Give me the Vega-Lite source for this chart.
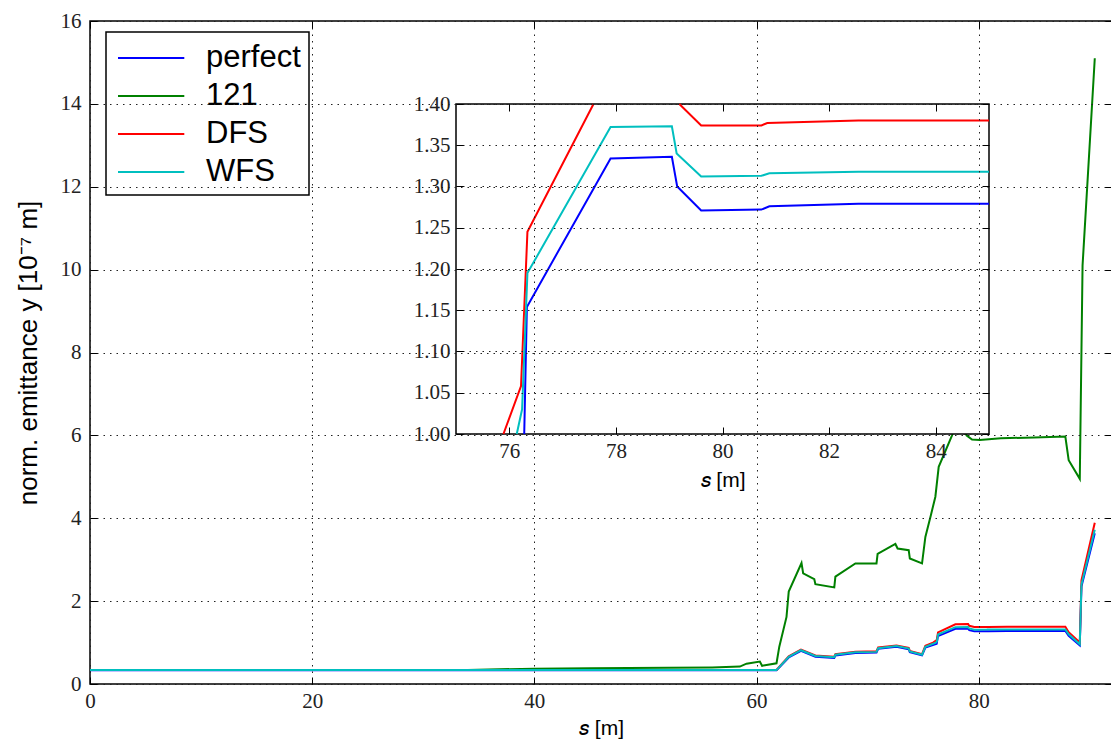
{
  "$schema": "https://vega.github.io/schema/vega-lite/v6.json",
  "autosize": {"type": "none"},
  "padding": {"left": 90, "top": 21, "right": 0, "bottom": 57},
  "width": 1022,
  "height": 663,
  "background": "white",
  "config": {
    "view": {"stroke": "black", "strokeWidth": 1.5},
    "axis": {
      "labelFont": "Liberation Serif",
      "labelFontSize": 21,
      "labelColor": "#222",
      "labelFlush": false,
      "tickColor": "black",
      "tickSize": -7,
      "tickWidth": 1,
      "labelPadding": 13,
      "domain": false,
      "gridColor": "#222",
      "gridDash": [1.5, 5],
      "gridWidth": 1,
      "gridOpacity": 1,
      "titleFont": "Liberation Sans",
      "titleFontWeight": "normal",
      "titleColor": "black",
      "titleFontSize": 21
    },
    "legend": {
      "orient": "none",
      "legendX": 16,
      "legendY": 11,
      "title": null,
      "strokeColor": "black",
      "strokeWidth": 1.5,
      "fillColor": "white",
      "padding": 8,
      "labelFont": "Liberation Sans",
      "labelFontSize": 31,
      "labelColor": "black",
      "symbolType": "M-1,0H2.9",
      "symbolStrokeWidth": 2,
      "symbolSize": 1156,
      "symbolOffset": 3,
      "rowPadding": 5,
      "labelOffset": 53
    }
  },
  "datasets": {
    "main": [
      {"c": "perfect", "s": 0, "v": 0.33}, {"c": "perfect", "s": 20, "v": 0.33}, {"c": "perfect", "s": 40, "v": 0.33}, {"c": "perfect", "s": 58.5, "v": 0.33}, {"c": "perfect", "s": 61.8, "v": 0.33}, {"c": "perfect", "s": 62.9, "v": 0.64}, {"c": "perfect", "s": 64.0, "v": 0.8}, {"c": "perfect", "s": 65.3, "v": 0.66}, {"c": "perfect", "s": 67.0, "v": 0.63}, {"c": "perfect", "s": 67.1, "v": 0.69}, {"c": "perfect", "s": 68.9, "v": 0.75}, {"c": "perfect", "s": 70.8, "v": 0.76}, {"c": "perfect", "s": 70.95, "v": 0.85}, {"c": "perfect", "s": 72.6, "v": 0.9}, {"c": "perfect", "s": 73.7, "v": 0.84}, {"c": "perfect", "s": 73.8, "v": 0.77}, {"c": "perfect", "s": 74.9, "v": 0.69}, {"c": "perfect", "s": 75.2, "v": 0.88}, {"c": "perfect", "s": 76.22, "v": 0.97}, {"c": "perfect", "s": 76.33, "v": 1.154}, {"c": "perfect", "s": 77.9, "v": 1.334}, {"c": "perfect", "s": 79.05, "v": 1.336}, {"c": "perfect", "s": 79.15, "v": 1.3}, {"c": "perfect", "s": 79.6, "v": 1.271}, {"c": "perfect", "s": 80.73, "v": 1.272}, {"c": "perfect", "s": 80.88, "v": 1.276}, {"c": "perfect", "s": 82.55, "v": 1.279}, {"c": "perfect", "s": 87.8, "v": 1.279}, {"c": "perfect", "s": 88.1, "v": 1.16}, {"c": "perfect", "s": 89.1, "v": 0.93}, {"c": "perfect", "s": 89.25, "v": 2.35}, {"c": "perfect", "s": 90.45, "v": 3.64},
      {"c": "121", "s": 0, "v": 0.335}, {"c": "121", "s": 20, "v": 0.335}, {"c": "121", "s": 34, "v": 0.34}, {"c": "121", "s": 40, "v": 0.37}, {"c": "121", "s": 45, "v": 0.38}, {"c": "121", "s": 52, "v": 0.39}, {"c": "121", "s": 56, "v": 0.4}, {"c": "121", "s": 58.5, "v": 0.42}, {"c": "121", "s": 59.1, "v": 0.49}, {"c": "121", "s": 60.3, "v": 0.54}, {"c": "121", "s": 60.5, "v": 0.44}, {"c": "121", "s": 61.8, "v": 0.5}, {"c": "121", "s": 62.05, "v": 0.9}, {"c": "121", "s": 62.7, "v": 1.62}, {"c": "121", "s": 62.9, "v": 2.23}, {"c": "121", "s": 64.05, "v": 2.92}, {"c": "121", "s": 64.2, "v": 2.67}, {"c": "121", "s": 65.2, "v": 2.53}, {"c": "121", "s": 65.3, "v": 2.41}, {"c": "121", "s": 67.0, "v": 2.33}, {"c": "121", "s": 67.1, "v": 2.59}, {"c": "121", "s": 68.9, "v": 2.91}, {"c": "121", "s": 70.8, "v": 2.91}, {"c": "121", "s": 70.9, "v": 3.14}, {"c": "121", "s": 72.5, "v": 3.38}, {"c": "121", "s": 72.7, "v": 3.27}, {"c": "121", "s": 73.7, "v": 3.23}, {"c": "121", "s": 73.8, "v": 3.03}, {"c": "121", "s": 74.9, "v": 2.91}, {"c": "121", "s": 75.2, "v": 3.55}, {"c": "121", "s": 75.7, "v": 4.08}, {"c": "121", "s": 76.1, "v": 4.52}, {"c": "121", "s": 76.4, "v": 5.24}, {"c": "121", "s": 77.6, "v": 6.0}, {"c": "121", "s": 78.0, "v": 6.35}, {"c": "121", "s": 78.6, "v": 6.3}, {"c": "121", "s": 78.9, "v": 6.0}, {"c": "121", "s": 79.4, "v": 5.9}, {"c": "121", "s": 80.1, "v": 5.89}, {"c": "121", "s": 82.0, "v": 5.93}, {"c": "121", "s": 85.0, "v": 5.95}, {"c": "121", "s": 87.8, "v": 5.97}, {"c": "121", "s": 88.1, "v": 5.4}, {"c": "121", "s": 89.1, "v": 4.95}, {"c": "121", "s": 89.35, "v": 10.1}, {"c": "121", "s": 90.45, "v": 15.1},
      {"c": "DFS", "s": 0, "v": 0.34}, {"c": "DFS", "s": 20, "v": 0.34}, {"c": "DFS", "s": 40, "v": 0.34}, {"c": "DFS", "s": 58.5, "v": 0.34}, {"c": "DFS", "s": 61.8, "v": 0.34}, {"c": "DFS", "s": 62.9, "v": 0.67}, {"c": "DFS", "s": 64.0, "v": 0.83}, {"c": "DFS", "s": 65.3, "v": 0.69}, {"c": "DFS", "s": 67.0, "v": 0.66}, {"c": "DFS", "s": 67.1, "v": 0.72}, {"c": "DFS", "s": 68.9, "v": 0.78}, {"c": "DFS", "s": 70.8, "v": 0.79}, {"c": "DFS", "s": 70.95, "v": 0.88}, {"c": "DFS", "s": 72.6, "v": 0.93}, {"c": "DFS", "s": 73.7, "v": 0.87}, {"c": "DFS", "s": 73.8, "v": 0.8}, {"c": "DFS", "s": 74.9, "v": 0.72}, {"c": "DFS", "s": 75.2, "v": 0.92}, {"c": "DFS", "s": 75.89, "v": 1.0}, {"c": "DFS", "s": 76.22, "v": 1.058}, {"c": "DFS", "s": 76.34, "v": 1.245}, {"c": "DFS", "s": 77.9, "v": 1.44}, {"c": "DFS", "s": 79.05, "v": 1.445}, {"c": "DFS", "s": 79.15, "v": 1.405}, {"c": "DFS", "s": 79.6, "v": 1.374}, {"c": "DFS", "s": 80.73, "v": 1.374}, {"c": "DFS", "s": 80.84, "v": 1.377}, {"c": "DFS", "s": 82.55, "v": 1.38}, {"c": "DFS", "s": 87.8, "v": 1.38}, {"c": "DFS", "s": 88.1, "v": 1.25}, {"c": "DFS", "s": 89.1, "v": 1.0}, {"c": "DFS", "s": 89.25, "v": 2.5}, {"c": "DFS", "s": 90.45, "v": 3.89},
      {"c": "WFS", "s": 0, "v": 0.335}, {"c": "WFS", "s": 20, "v": 0.335}, {"c": "WFS", "s": 40, "v": 0.335}, {"c": "WFS", "s": 58.5, "v": 0.335}, {"c": "WFS", "s": 61.8, "v": 0.335}, {"c": "WFS", "s": 62.9, "v": 0.655}, {"c": "WFS", "s": 64.0, "v": 0.815}, {"c": "WFS", "s": 65.3, "v": 0.675}, {"c": "WFS", "s": 67.0, "v": 0.645}, {"c": "WFS", "s": 67.1, "v": 0.705}, {"c": "WFS", "s": 68.9, "v": 0.765}, {"c": "WFS", "s": 70.8, "v": 0.775}, {"c": "WFS", "s": 70.95, "v": 0.865}, {"c": "WFS", "s": 72.6, "v": 0.915}, {"c": "WFS", "s": 73.7, "v": 0.855}, {"c": "WFS", "s": 73.8, "v": 0.785}, {"c": "WFS", "s": 74.9, "v": 0.705}, {"c": "WFS", "s": 75.2, "v": 0.9}, {"c": "WFS", "s": 76.14, "v": 1.0}, {"c": "WFS", "s": 76.24, "v": 1.03}, {"c": "WFS", "s": 76.34, "v": 1.195}, {"c": "WFS", "s": 77.9, "v": 1.372}, {"c": "WFS", "s": 79.05, "v": 1.373}, {"c": "WFS", "s": 79.14, "v": 1.34}, {"c": "WFS", "s": 79.6, "v": 1.312}, {"c": "WFS", "s": 80.73, "v": 1.313}, {"c": "WFS", "s": 80.88, "v": 1.316}, {"c": "WFS", "s": 82.55, "v": 1.318}, {"c": "WFS", "s": 87.8, "v": 1.318}, {"c": "WFS", "s": 88.1, "v": 1.2}, {"c": "WFS", "s": 89.1, "v": 0.96}, {"c": "WFS", "s": 89.25, "v": 2.4}, {"c": "WFS", "s": 90.45, "v": 3.72}
    ],
    "inset": [
      {"c": "perfect", "g": "p", "s": 76.28, "v": 1.0}, {"c": "perfect", "g": "p", "s": 76.33, "v": 1.154}, {"c": "perfect", "g": "p", "s": 77.9, "v": 1.334}, {"c": "perfect", "g": "p", "s": 79.05, "v": 1.336}, {"c": "perfect", "g": "p", "s": 79.15, "v": 1.3}, {"c": "perfect", "g": "p", "s": 79.6, "v": 1.271}, {"c": "perfect", "g": "p", "s": 80.73, "v": 1.272}, {"c": "perfect", "g": "p", "s": 80.88, "v": 1.276}, {"c": "perfect", "g": "p", "s": 82.55, "v": 1.279}, {"c": "perfect", "g": "p", "s": 85.0, "v": 1.279},
      {"c": "DFS", "g": "d1", "s": 75.89, "v": 1.0}, {"c": "DFS", "g": "d1", "s": 76.22, "v": 1.058}, {"c": "DFS", "g": "d1", "s": 76.34, "v": 1.245}, {"c": "DFS", "g": "d1", "s": 77.58, "v": 1.4},
      {"c": "DFS", "g": "d2", "s": 79.19, "v": 1.4}, {"c": "DFS", "g": "d2", "s": 79.6, "v": 1.374}, {"c": "DFS", "g": "d2", "s": 80.73, "v": 1.374}, {"c": "DFS", "g": "d2", "s": 80.84, "v": 1.377}, {"c": "DFS", "g": "d2", "s": 82.55, "v": 1.38}, {"c": "DFS", "g": "d2", "s": 85.0, "v": 1.38},
      {"c": "WFS", "g": "w", "s": 76.14, "v": 1.0}, {"c": "WFS", "g": "w", "s": 76.24, "v": 1.03}, {"c": "WFS", "g": "w", "s": 76.34, "v": 1.195}, {"c": "WFS", "g": "w", "s": 77.9, "v": 1.372}, {"c": "WFS", "g": "w", "s": 79.05, "v": 1.373}, {"c": "WFS", "g": "w", "s": 79.14, "v": 1.34}, {"c": "WFS", "g": "w", "s": 79.6, "v": 1.312}, {"c": "WFS", "g": "w", "s": 80.73, "v": 1.313}, {"c": "WFS", "g": "w", "s": 80.88, "v": 1.316}, {"c": "WFS", "g": "w", "s": 82.55, "v": 1.318}, {"c": "WFS", "g": "w", "s": 85.0, "v": 1.318}
    ]
  },
  "layer": [
    {
      "layer": [
        {
          "data": {"name": "main"},
          "mark": {"type": "line", "strokeWidth": 2},
          "encoding": {
            "x": {"field": "s", "type": "quantitative", "scale": {"domain": [0, 92], "nice": false, "zero": false},
                  "axis": {"orient": "bottom", "values": [0, 20, 40, 60, 80], "grid": true, "zindex": 1, "title": "𝑠 [m]", "titlePadding": 6}},
            "y": {"field": "v", "type": "quantitative", "scale": {"domain": [0, 16], "nice": false},
                  "axis": {"orient": "left", "values": [0, 2, 4, 6, 8, 10, 12, 14, 16], "grid": true, "zindex": 1, "labelPadding": 16, "title": "norm. emittance y [10⁻⁷ m]", "titlePadding": 19, "titleFontSize": 26}},
            "color": {"field": "c", "type": "nominal", "sort": ["perfect", "121", "DFS", "WFS"],
                      "scale": {"domain": ["perfect", "121", "DFS", "WFS"], "range": ["#0000ff", "#008000", "#ff0000", "#00bfbf"]}}
          }
        },
        {
          "data": {"name": "main"},
          "mark": {"type": "point", "opacity": 0},
          "encoding": {
            "x": {"field": "s", "type": "quantitative", "axis": {"orient": "top", "values": [0, 20, 40, 60, 80], "labels": false, "title": null, "grid": false, "zindex": 1}},
            "y": {"field": "v", "type": "quantitative", "axis": {"orient": "right", "values": [0, 2, 4, 6, 8, 10, 12, 14, 16], "labels": false, "title": null, "grid": false, "zindex": 1}}
          }
        }
      ],
      "resolve": {"axis": {"x": "independent", "y": "independent"}}
    },
    {
      "layer": [
        {
          "data": {"values": [{"a": 75, "b": 85, "lo": 1.0, "hi": 1.4}]},
          "mark": {"type": "rect", "fill": "white", "stroke": "black", "strokeWidth": 1.5},
          "encoding": {
            "x": {"field": "a", "type": "quantitative",
                  "scale": {"domain": [75, 85], "range": [366, 899], "nice": false, "zero": false},
                  "axis": {"orient": "top", "offset": -83, "values": [76, 78, 80, 82, 84], "labels": false, "title": null, "grid": false, "zindex": 1}},
            "x2": {"field": "b"},
            "y": {"field": "lo", "type": "quantitative",
                  "scale": {"domain": [1.0, 1.4], "range": [413, 83], "nice": false, "zero": false},
                  "axis": {"orient": "right", "offset": -123, "values": [1.0, 1.05, 1.1, 1.15, 1.2, 1.25, 1.3, 1.35, 1.4], "labels": false, "title": null, "grid": false, "zindex": 1}},
            "y2": {"field": "hi"}
          }
        },
        {
          "data": {"name": "inset"},
          "mark": {"type": "line", "strokeWidth": 2},
          "encoding": {
            "x": {"field": "s", "type": "quantitative",
                  "axis": {"orient": "bottom", "offset": -250, "values": [76, 78, 80, 82, 84], "grid": false, "zindex": 1, "title": "𝑠 [m]", "titlePadding": 8}},
            "y": {"field": "v", "type": "quantitative",
                  "axis": {"orient": "left", "offset": -366, "values": [1.0, 1.05, 1.1, 1.15, 1.2, 1.25, 1.3, 1.35, 1.4], "format": ".2f", "grid": true, "zindex": 1, "title": null}},
            "color": {"field": "c", "type": "nominal", "sort": ["perfect", "121", "DFS", "WFS"]},
            "detail": {"field": "g", "type": "nominal"}
          }
        }
      ],
      "resolve": {"axis": {"x": "independent", "y": "independent"}}
    }
  ],
  "resolve": {"scale": {"x": "independent", "y": "independent"}}
}
